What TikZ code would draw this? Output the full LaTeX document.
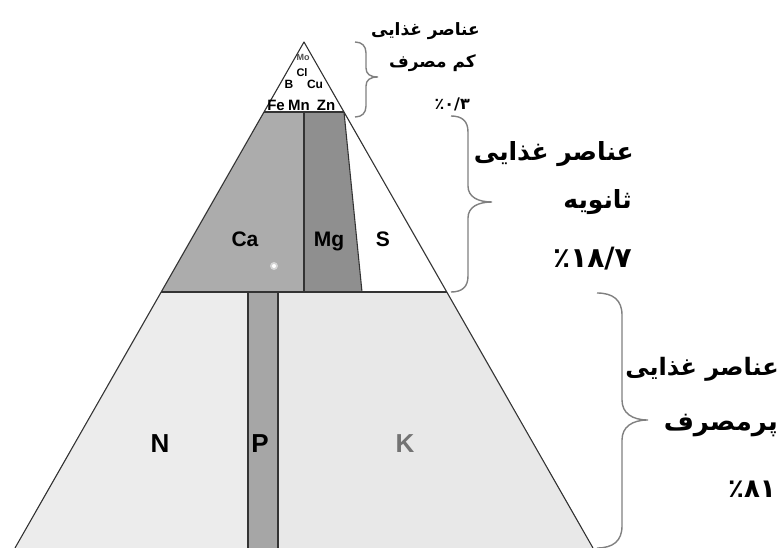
\documentclass[tikz,border=0pt]{standalone}
\usepackage{fontspec}
\setmainfont{Liberation Sans}
\newfontfamily\farsi[Script=Arabic]{DejaVu Sans}
\TeXXeTstate=1

\begin{document}
\begin{tikzpicture}[x=1pt, y=-1pt,
    edge/.style={draw=black!80, line width=1.1pt, line join=round},
    brc/.style={draw=black!50, line width=1.4pt},
    elem/.style={inner sep=0pt, anchor=base, font=\bfseries\fontsize{21pt}{24pt}\selectfont},
    macro/.style={inner sep=0pt, anchor=base, font=\bfseries\fontsize{26pt}{30pt}\selectfont},
    micro/.style={inner sep=0pt, anchor=base, font=\bfseries\fontsize{#1}{#1}\selectfont},
    fa/.style={inner sep=0pt, anchor=base east, font=\farsi\bfseries\fontsize{#1}{#1}\selectfont}]
    \useasboundingbox (0,0) rectangle (780,548);
    % corners of the pyramid
    \coordinate (apex) at (304,42);
    \coordinate (tl) at (264,112);
    \coordinate (tr) at (344,112);
    \coordinate (ml) at (161,292);
    \coordinate (mr) at (447,292);
    \coordinate (bl) at (15,548);
    \coordinate (br) at (593,548);
    % bottom band
    \fill[gray!15] (ml) -- (248,292) -- (248,548) -- (bl) -- cycle;
    \fill[gray!18] (278,292) -- (mr) -- (br) -- (278,548) -- cycle;
    \fill[gray!70] (248,292) rectangle (278,548);
    % middle band
    \fill[gray!65] (tl) -- (304,112) -- (304,292) -- (ml) -- cycle;
    \fill[gray!88] (304,112) -- (tr) -- (362,292) -- (304,292) -- cycle;
    \fill[white] (tr) -- (mr) -- (362,292) -- cycle;
    \fill[white, opacity=0.5] (274,266) circle (4);
    \fill[white] (274,266) circle (2);
    % outlines
    \draw[edge] (bl) -- (apex) -- (br);
    \draw[edge] (tl) -- (tr);
    \draw[edge] (ml) -- (mr);
    \draw[edge] (304,112) -- (304,292);
    \draw[edge] (tr) -- (362,292);
    \draw[edge] (248,292) -- (248,548);
    \draw[edge] (278,292) -- (278,548);
    % element names
    \node[micro=9pt, text=black!70] (mo) at (303,61) {Mo};
    \node[micro=11pt] (cl) at (302,77) {Cl};
    \node[micro=12pt] (b) at (289,89) {B};
    \node[micro=12pt] (cu) at (315,89) {Cu};
    \node[micro=15pt] (fe) at (276,111) {Fe};
    \node[micro=15pt] (mn) at (299,111) {Mn};
    \node[micro=15pt] (zn) at (326,111) {Zn};
    \node[elem] (ca) at (245,247) {Ca};
    \node[elem] (mg) at (329,247) {Mg};
    \node[elem] (s) at (383,247) {S};
    \node[macro] (n) at (160,452) {N};
    \node[macro] (p) at (260,452) {P};
    \node[macro, text=black!55] (k) at (405,452) {K};
    % braces
    \draw[brc] (355,42) .. controls (362,42) and (366,46) .. (366,53) -- (366,68)
        .. controls (366,74) and (370,77) .. (378,77)
        .. controls (370,77) and (366,80) .. (366,86) -- (366,106)
        .. controls (366,113) and (362,117) .. (355,117);
    \draw[brc] (451,116) .. controls (462,116) and (468,121) .. (468,132) -- (468,186)
        .. controls (468,197) and (478,202) .. (492,202)
        .. controls (478,202) and (468,207) .. (468,218) -- (468,276)
        .. controls (468,287) and (462,292) .. (451,292);
    \draw[brc] (597,293) .. controls (613,293) and (622,300) .. (622,315) -- (622,400)
        .. controls (622,413) and (632,420) .. (648,420)
        .. controls (632,420) and (622,427) .. (622,440) -- (622,526)
        .. controls (622,541) and (613,548) .. (597,548);
    % labels
    \node[fa=17pt] (low1) at (480,36) {\beginR عناصر غذایی\endR};
    \node[fa=17pt] (low2) at (476,68) {\beginR کم مصرف\endR};
    \node[fa=16pt] (low3) at (470,110) {٪۰/۳};
    \node[fa=25pt] (mid1) at (634,161) {\beginR عناصر غذایی\endR};
    \node[fa=25pt] (mid2) at (632,209) {\beginR ثانویه\endR};
    \node[fa=28pt] (mid3) at (632,268) {٪۱۸/۷};
    \node[fa=24pt] (high1) at (779,376) {\beginR عناصر غذایی\endR};
    \node[fa=26pt] (high2) at (778,430) {\beginR پرمصرف\endR};
    \node[fa=26pt] (high3) at (776,497) {٪۸۱};
\end{tikzpicture}
\end{document}
